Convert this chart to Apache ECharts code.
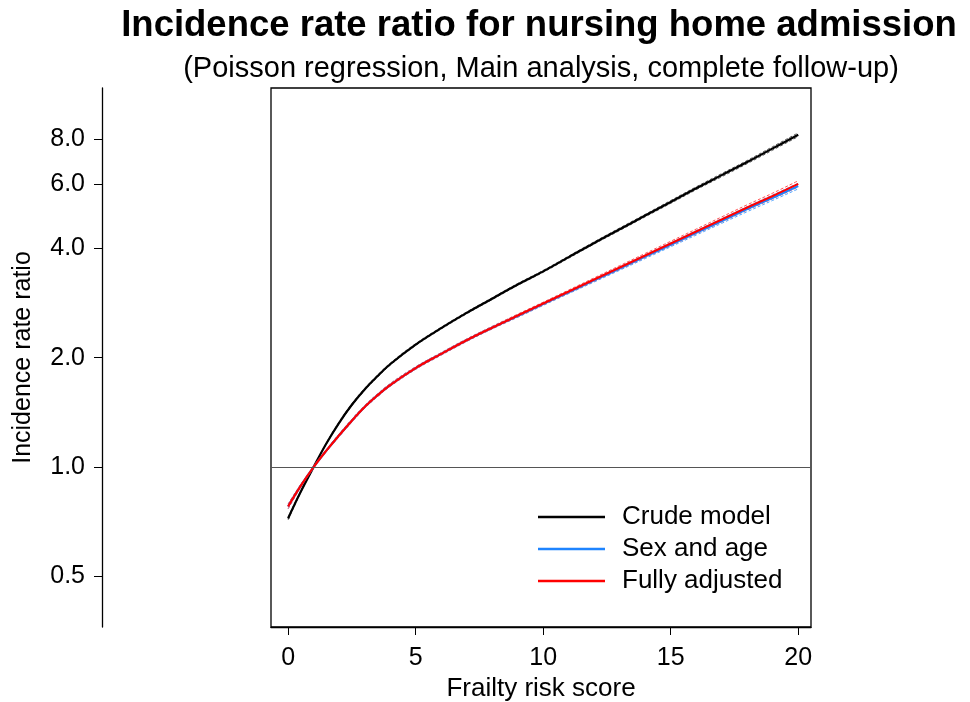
<!DOCTYPE html>
<html>
<head>
<meta charset="utf-8">
<script src="https://cdn.jsdelivr.net/npm/echarts@6/dist/echarts.min.js"></script>
<style>
  html, body { margin: 0; padding: 0; background: #fff; }
  #main { width: 970px; height: 702px; }
</style>
</head>
<body>
<div id="main"></div>
<script>
// frailty risk score (x)
const scores = [0, 0.5, 1, 1.5, 2, 2.5, 3, 3.5, 4, 5, 6, 7, 8, 9, 10, 11, 12, 13, 14, 15, 16, 17, 18, 19, 20];

// incidence rate ratios (estimate, lower and upper CI)
const crude = [0.722, 0.856, 1.000, 1.161, 1.324, 1.484, 1.636, 1.778, 1.919, 2.173, 2.412, 2.657, 2.908, 3.182, 3.458, 3.784, 4.141, 4.516, 4.925, 5.370, 5.856, 6.364, 6.916, 7.542, 8.225];
const crudeLo = [0.715, 0.852, 1.000, 1.156, 1.316, 1.474, 1.625, 1.766, 1.906, 2.160, 2.398, 2.641, 2.891, 3.163, 3.437, 3.758, 4.112, 4.480, 4.886, 5.322, 5.803, 6.300, 6.847, 7.459, 8.126];
const crudeHi = [0.729, 0.860, 1.000, 1.166, 1.332, 1.494, 1.647, 1.790, 1.932, 2.186, 2.426, 2.673, 2.925, 3.201, 3.479, 3.810, 4.170, 4.552, 4.964, 5.418, 5.909, 6.428, 6.985, 7.625, 8.324];

const sexAge = [0.779, 0.889, 1.000, 1.110, 1.223, 1.342, 1.464, 1.575, 1.682, 1.873, 2.049, 2.235, 2.420, 2.607, 2.811, 3.030, 3.266, 3.521, 3.797, 4.094, 4.415, 4.760, 5.131, 5.518, 5.940];
const sexAgeLo = [0.767, 0.882, 1.000, 1.104, 1.213, 1.330, 1.451, 1.561, 1.667, 1.858, 2.033, 2.217, 2.401, 2.584, 2.786, 3.003, 3.233, 3.482, 3.751, 4.041, 4.353, 4.689, 5.049, 5.424, 5.833];
const sexAgeHi = [0.791, 0.896, 1.000, 1.116, 1.233, 1.354, 1.477, 1.589, 1.697, 1.888, 2.065, 2.253, 2.439, 2.630, 2.836, 3.057, 3.299, 3.560, 3.843, 4.147, 4.477, 4.831, 5.213, 5.612, 6.047];

const fully = [0.779, 0.889, 1.000, 1.110, 1.223, 1.342, 1.464, 1.575, 1.682, 1.873, 2.049, 2.235, 2.420, 2.612, 2.819, 3.042, 3.283, 3.543, 3.824, 4.127, 4.454, 4.807, 5.187, 5.579, 6.021];
const fullyLo = [0.767, 0.882, 1.000, 1.104, 1.213, 1.330, 1.451, 1.561, 1.667, 1.858, 2.033, 2.217, 2.401, 2.588, 2.794, 3.012, 3.247, 3.500, 3.774, 4.069, 4.387, 4.730, 5.099, 5.479, 5.901];
const fullyHi = [0.791, 0.896, 1.000, 1.116, 1.233, 1.354, 1.477, 1.589, 1.697, 1.888, 2.065, 2.253, 2.439, 2.636, 2.844, 3.072, 3.319, 3.586, 3.874, 4.185, 4.521, 4.884, 5.275, 5.679, 6.141];

const yTicks = [0.5, 1, 2, 4, 6, 8];
const xTicks = [0, 5, 10, 15, 20];

const FONT = 'Liberation Sans, Arial, sans-serif';

// the y axis is logarithmic: plot log2 of the ratio on a value axis
const toPts = (arr) => arr.map((v, i) => [scores[i], Math.log2(v)]);

const mainLine = (name, arr, color) => ({
    name: name,
    type: 'line',
    data: toPts(arr),
    showSymbol: false,
    smooth: 0.4,
    lineStyle: { color: color, width: 2.2 },
    itemStyle: { color: color },
    z: 3
});

const ciLine = (arr, color) => ({
    type: 'line',
    data: toPts(arr),
    showSymbol: false,
    smooth: 0.4,
    silent: true,
    lineStyle: { color: color, width: 1, type: [3, 2] },
    z: 2
});

const chart = echarts.init(document.getElementById('main'), null, { renderer: 'canvas' });

chart.setOption({
    animation: false,
    backgroundColor: '#fff',
    textStyle: { fontFamily: FONT },
    title: [
        {
            text: 'Incidence rate ratio for nursing home admission',
            left: 534, top: 2, textAlign: 'center',
            textStyle: { fontFamily: FONT, fontSize: 36.5, fontWeight: 'bold', color: '#000' }
        },
        {
            text: '(Poisson regression, Main analysis, complete follow-up)',
            left: 536, top: 49, textAlign: 'center',
            textStyle: { fontFamily: FONT, fontSize: 29, fontWeight: 'normal', color: '#000' }
        }
    ],
    legend: {
        orient: 'vertical',
        left: 538, top: 504,
        padding: 0,
        itemWidth: 67, itemHeight: 2.5, itemGap: 6,
        icon: 'rect',
        data: ['Crude model', 'Sex and age', 'Fully adjusted'],
        textStyle: { fontFamily: FONT, fontSize: 26, color: '#000', lineHeight: 26, padding: [0, 0, 0, 12] }
    },
    grid: {
        left: 271, right: 159, top: 88, bottom: 75,
        outerBoundsMode: 'none',
        show: true, borderColor: '#000', borderWidth: 1.3
    },
    xAxis: {
        type: 'value',
        min: -0.67, max: 20.5,
        name: 'Frailty risk score',
        nameLocation: 'middle',
        nameGap: 43,
        nameTextStyle: { fontFamily: FONT, fontSize: 26, color: '#000' },
        axisLine: { show: true, onZero: false, lineStyle: { color: '#000', width: 1.3 } },
        axisTick: { show: true, length: 8, customValues: xTicks, lineStyle: { color: '#000' } },
        axisLabel: { customValues: xTicks, margin: 19, fontFamily: FONT, fontSize: 25, color: '#000' },
        splitLine: { show: false }
    },
    yAxis: {
        type: 'value',
        min: -1.463, max: 3.467,
        offset: 169,
        name: 'Incidence rate ratio',
        nameLocation: 'middle',
        nameGap: 66,
        nameTextStyle: { fontFamily: FONT, fontSize: 25, color: '#000' },
        axisLine: { show: true, onZero: false, lineStyle: { color: '#000', width: 1.3 } },
        axisTick: { show: true, length: 8, customValues: yTicks.map(Math.log2), lineStyle: { color: '#000' } },
        axisLabel: {
            customValues: yTicks.map(Math.log2),
            margin: 17,
            fontFamily: FONT, fontSize: 25, color: '#000',
            formatter: (v) => Math.pow(2, v).toFixed(1)
        },
        splitLine: { show: false }
    },
    series: [
        ciLine(crudeLo, '#555'),
        ciLine(crudeHi, '#555'),
        ciLine(sexAgeLo, '#4da3ff'),
        ciLine(sexAgeHi, '#4da3ff'),
        ciLine(fullyLo, '#ff5555'),
        ciLine(fullyHi, '#ff5555'),
        mainLine('Crude model', crude, '#000000'),
        mainLine('Sex and age', sexAge, '#1e84ff'),
        Object.assign(mainLine('Fully adjusted', fully, '#ff0000'), {
            markLine: {
                silent: true,
                symbol: 'none',
                label: { show: false },
                lineStyle: { color: '#555', width: 1.2, type: 'solid' },
                data: [{ yAxis: 0 }]
            }
        })
    ]
});

window.onresize = function () {
    chart.resize();
};
</script>
</body>
</html>
